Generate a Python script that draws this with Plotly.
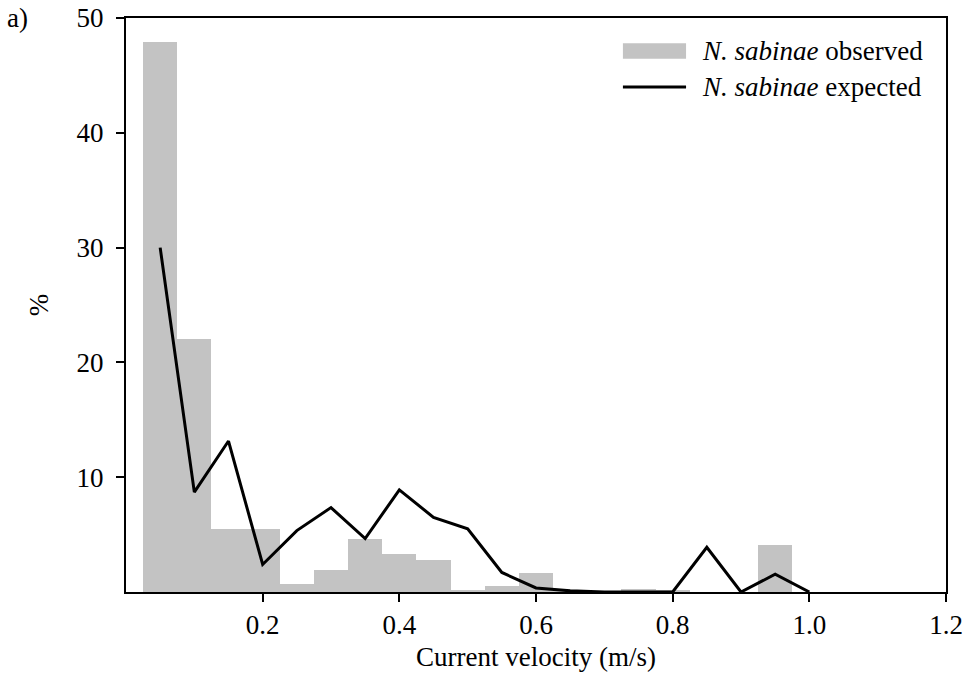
import plotly.graph_objects as go

# Bin centres (current velocity, m/s)
velocity = [0.05, 0.10, 0.15, 0.20, 0.25, 0.30, 0.35, 0.40, 0.45, 0.50,
            0.55, 0.60, 0.65, 0.70, 0.75, 0.80, 0.85, 0.90, 0.95, 1.00]
# N. sabinae observed (%)
observed = [47.9, 22.0, 5.5, 5.5, 0.7, 1.9, 4.65, 3.3, 2.8, 0.15,
            0.5, 1.65, 0.1, 0.0, 0.25, 0.1, 0.0, 0.0, 4.1, 0.0]
# N. sabinae expected (%)
expected = [30.0, 8.7, 13.15, 2.4, 5.35, 7.35, 4.65, 8.9, 6.5, 5.5,
            1.7, 0.35, 0.1, 0.0, 0.0, 0.0, 3.9, 0.0, 1.55, 0.0]

x_ticks = [0.2, 0.4, 0.6, 0.8, 1.0, 1.2]
x_tick_labels = ["0.2", "0.4", "0.6", "0.8", "1.0", "1.2"]
y_ticks = [10, 20, 30, 40, 50]

FONT = "Liberation Serif, Times New Roman, serif"
GREY = "#c3c3c3"
FS = 27

fig = go.Figure()
fig.add_trace(go.Bar(x=velocity, y=observed, width=0.05, marker_color=GREY,
                     marker_line_width=0, name="N. sabinae observed",
                     showlegend=False))
fig.add_trace(go.Scatter(x=velocity, y=expected, mode="lines",
                         line=dict(color="black", width=3),
                         name="N. sabinae expected", showlegend=False))

axis_common = dict(showline=True, linecolor="black", linewidth=2, mirror=True,
                   ticks="outside", ticklen=8, tickwidth=2, tickcolor="black",
                   showgrid=False, zeroline=False, automargin=False,
                   tickfont=dict(family=FONT, size=FS, color="black"))

fig.update_xaxes(range=[0, 1.2], tickvals=x_ticks, ticktext=x_tick_labels,
                 title=dict(text="Current velocity (m/s)", standoff=8,
                            font=dict(family=FONT, size=FS, color="black")),
                 **axis_common)
fig.update_yaxes(range=[0, 50], tickvals=y_ticks, ticklabelstandoff=7,
                 title=dict(text="%", standoff=20,
                            font=dict(family=FONT, size=FS, color="black")),
                 **axis_common)

# Legend (drawn manually to reproduce the wide swatches)
fig.add_shape(type="rect", xref="paper", yref="paper",
              x0=0.606, x1=0.683, y0=0.929, y1=0.956,
              fillcolor=GREY, line_width=0)
fig.add_shape(type="line", xref="paper", yref="paper",
              x0=0.606, x1=0.683, y0=0.880, y1=0.880,
              line=dict(color="black", width=3))
fig.add_annotation(xref="paper", yref="paper", x=0.700, y=0.942,
                   xanchor="left", yanchor="middle", showarrow=False,
                   text="<i>N. sabinae</i> observed",
                   font=dict(family=FONT, size=FS, color="black"))
fig.add_annotation(xref="paper", yref="paper", x=0.700, y=0.880,
                   xanchor="left", yanchor="middle", showarrow=False,
                   text="<i>N. sabinae</i> expected",
                   font=dict(family=FONT, size=FS, color="black"))
fig.add_annotation(xref="paper", yref="paper", x=-0.148, y=1.0,
                   xanchor="left", yanchor="middle", showarrow=False,
                   text="a)", font=dict(family=FONT, size=FS, color="black"))

fig.update_layout(width=977, height=683,
                  margin=dict(l=126, r=31, t=18, b=91, pad=0, autoexpand=False),
                  paper_bgcolor="white", plot_bgcolor="white",
                  bargap=0, showlegend=False)

# Remove the default 8 px body margin so the figure sits at the page origin.
fig.write_html("out.html", config={"displayModeBar": False},
               post_script="document.body.style.margin='0';document.body.style.overflow='hidden';")
